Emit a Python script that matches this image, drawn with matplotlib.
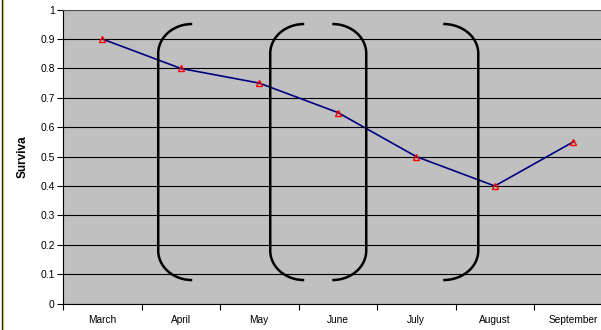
import matplotlib.pyplot as plt
import numpy as np
from matplotlib.lines import Line2D

plt.rcParams['font.family'] = ['Liberation Sans', 'DejaVu Sans']

# Dados
months = ["March", "April", "May", "June", "July", "August", "September"]
survival = [0.9, 0.8, 0.75, 0.65, 0.5, 0.4, 0.55]
y_ticks = [0, 0.1, 0.2, 0.3, 0.4, 0.5, 0.6, 0.7, 0.8, 0.9, 1]

fig = plt.figure(figsize=(6.01, 3.30), dpi=100)
ax = fig.add_axes([63 / 601, 26.4 / 330, 549.5 / 601, 294 / 330])
ax.set_facecolor("#C0C0C0")

x = np.arange(len(months))
ax.plot(x, survival, color="#000080", lw=1.2, zorder=3)
ax.plot(x, survival, linestyle="none", marker="^", ms=4.5, mfc="none",
        mec="red", mew=1.0, zorder=4)


def bracket(x_vert, x_end, y_top, y_bot, ry=0.1):
    # parentese desenhado: arco em cima, reta vertical, arco embaixo
    t = np.linspace(0, np.pi / 2, 30)
    dx = x_end - x_vert
    xs_top = x_end - dx * np.sin(t)
    ys_top = (y_top - ry) + ry * np.cos(t)
    xs_bot = x_vert + dx * (1 - np.cos(t))
    ys_bot = (y_bot + ry) - ry * np.sin(t)
    xs = np.concatenate([xs_top, xs_bot])
    ys = np.concatenate([ys_top, ys_bot])
    ax.plot(xs, ys, color="black", lw=1.8, zorder=5, solid_capstyle="butt")


# posicoes dos parenteses (em unidades do eixo)
bracket(0.713, 1.146, 0.951, 0.080)
bracket(2.140, 2.573, 0.951, 0.080)
bracket(3.363, 2.930, 0.951, 0.080)
bracket(4.790, 4.344, 0.951, 0.080)

ax.set_xlim(-0.5, len(months) - 0.5)
ax.set_ylim(0, 1)
ax.set_yticks(y_ticks)
ax.set_yticklabels([f"{v:g}" for v in y_ticks], fontsize=7.5)
ax.set_xticks(x)
ax.set_xticklabels(months, fontsize=7.3)
ax.set_xticks(np.arange(len(months) + 1) - 0.5, minor=True)
ax.tick_params(axis="x", which="major", length=0, pad=8)
ax.tick_params(axis="x", which="minor", length=4, width=0.8)
ax.tick_params(axis="y", length=4, width=0.8, pad=2)
ax.grid(axis="y", color="black", lw=0.8)
ax.set_axisbelow(True)
ax.spines["top"].set_color("#555555")
ax.spines["right"].set_visible(False)
ax.spines["left"].set_linewidth(0.8)
ax.spines["bottom"].set_linewidth(0.8)
ax.set_ylabel("Surviva", fontsize=8.5, fontweight="bold", labelpad=8)

# borda esquerda da figura
fig.add_artist(Line2D([1.5 / 601, 1.5 / 601], [0, 1], color="black", lw=1))
fig.add_artist(Line2D([3 / 601, 3 / 601], [0, 1], color="#C8C860", lw=1))

fig.savefig("out.png", dpi=100)
